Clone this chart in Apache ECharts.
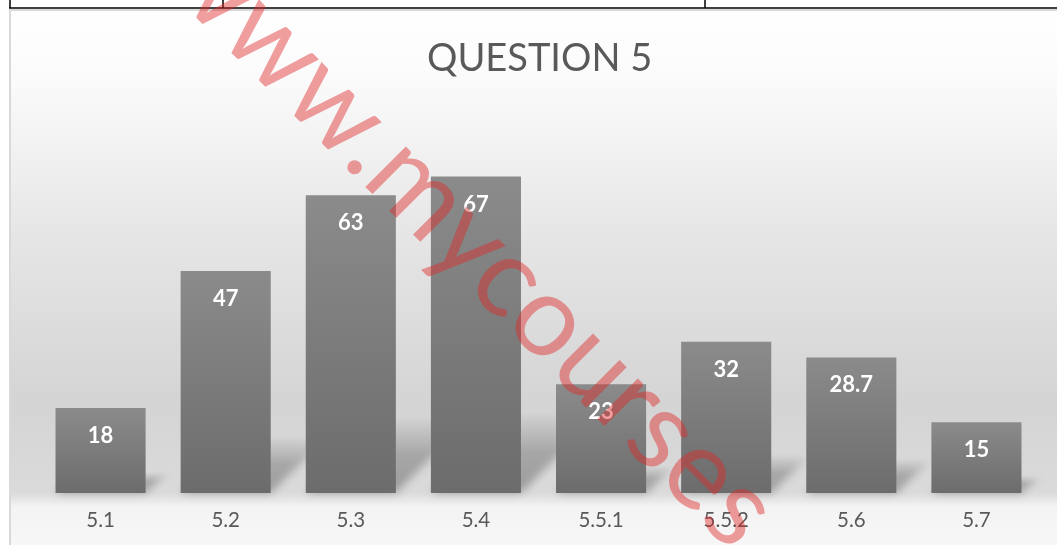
<!DOCTYPE html>
<html>
<head>
<meta charset="utf-8">
<script src="https://cdn.jsdelivr.net/npm/echarts@6/dist/echarts.min.js"></script>
<style>
html,body{margin:0;padding:0;background:#fff;}
#c{width:1057px;height:545px;}
</style>
</head>
<body>
<div id="c"></div>
<script>
const titleText = 'QUESTION 5';
const categories = ['5.1', '5.2', '5.3', '5.4', '5.5.1', '5.5.2', '5.6', '5.7'];
const values = [18, 47, 63, 67, 23, 32, 28.7, 15];
const watermarkText = 'www.mycourses.com';

const chart = echarts.init(document.getElementById('c'), null, {renderer: 'canvas'});
const BAR_RATIO = 0.72;

const option = {
  animation: false,
  backgroundColor: '#ffffff',
  title: {
    text: titleText,
    left: 422,
    top: 35,
    textStyle: {fontFamily: 'Lato', fontSize: 38, fontWeight: 'normal', color: '#595959'}
  },
  grid: {left: 38, right: 18, top: 115, bottom: 52},
  xAxis: {
    type: 'category',
    data: categories,
    axisLine: {show: false},
    axisTick: {show: false},
    axisLabel: {margin: 17, fontFamily: 'Lato', fontSize: 20.5, color: '#595959'}
  },
  yAxis: {
    type: 'value', min: 0, max: 80, interval: 10, show: false,
    splitLine: {show: false}
  },
  graphic: [
    {
      type: 'rect', z: -10, silent: true,
      shape: {x: 10, y: 10, width: 1070, height: 560},
      style: {
        fill: new echarts.graphic.LinearGradient(0, 0, 0, 1, [
          {offset: 0, color: '#ffffff'},
          {offset: 0.12, color: '#fbfbfb'},
          {offset: 0.4, color: '#e6e6e6'},
          {offset: 0.7, color: '#d4d4d4'},
          {offset: 0.86, color: '#dadada'},
          {offset: 0.875, color: '#e8e8e8'},
          {offset: 0.885, color: '#f3f3f3'},
          {offset: 1, color: '#fafafa'}
        ]),
        stroke: '#d9d9d9', lineWidth: 2
      }
    },
    {type: 'line', z: -5, silent: true, shape: {x1: 9, y1: 8, x2: 1057, y2: 8}, style: {stroke: '#000', lineWidth: 1.5}},
    {type: 'line', z: -5, silent: true, shape: {x1: 10, y1: 0, x2: 10, y2: 8}, style: {stroke: '#000', lineWidth: 1.5}},
    {type: 'line', z: -5, silent: true, shape: {x1: 223, y1: 0, x2: 223, y2: 8}, style: {stroke: '#000', lineWidth: 1.5}},
    {type: 'line', z: -5, silent: true, shape: {x1: 705, y1: 0, x2: 705, y2: 8}, style: {stroke: '#000', lineWidth: 1.5}},
    {
      type: 'text', z: 100, silent: true,
      x: 180, y: -50, rotation: -Math.PI / 4,
      style: {
        text: watermarkText, x: 0, y: 0,
        fontFamily: 'Lato', fontSize: 113, fontWeight: 'normal',
        fill: 'rgba(225,40,40,0.45)', align: 'left', verticalAlign: 'middle'
      }
    }
  ],
  series: [
    {
      type: 'custom',
      z: 1,
      silent: true,
      data: values.map((v, i) => [i, v]),
      renderItem: function (params, api) {
        const idx = api.value(0);
        const v = api.value(1);
        const base = api.coord([idx, 0]);
        const top = api.coord([idx, v]);
        const band = api.size([1, 0])[0];
        const bw = band * BAR_RATIO;
        const x0 = base[0] - bw / 2, x1 = base[0] + bw / 2;
        const h = base[1] - top[1];
        const s = h * 0.26;
        const off = 3000;
        return {
          type: 'polygon',
          shape: {points: [[x0 - off, base[1]], [x1 - off, base[1]], [x1 + s - off, base[1] - s], [x0 + s - off, base[1] - s]]},
          style: {
            fill: new echarts.graphic.LinearGradient(0, 1, 0, 0, [
              {offset: 0, color: 'rgba(0,0,0,0.9)'},
              {offset: 0.5, color: 'rgba(0,0,0,0.7)'},
              {offset: 1, color: 'rgba(0,0,0,0)'}
            ]),
            shadowBlur: 8,
            shadowColor: 'rgba(0,0,0,0.32)',
            shadowOffsetX: off,
            shadowOffsetY: 0
          }
        };
      }
    },
    {
      type: 'bar',
      z: 2,
      data: values,
      barCategoryGap: '28%',
      itemStyle: {
        color: new echarts.graphic.LinearGradient(0, 0, 0, 1, [
          {offset: 0, color: '#8b8b8b'},
          {offset: 1, color: '#6c6c6c'}
        ])
      },
      label: {
        show: true, position: 'insideTop', distance: 17,
        fontFamily: 'Lato', fontSize: 22, fontWeight: 'bold', color: '#ffffff'
      }
    }
  ]
};
chart.setOption(option);
</script>
</body>
</html>
